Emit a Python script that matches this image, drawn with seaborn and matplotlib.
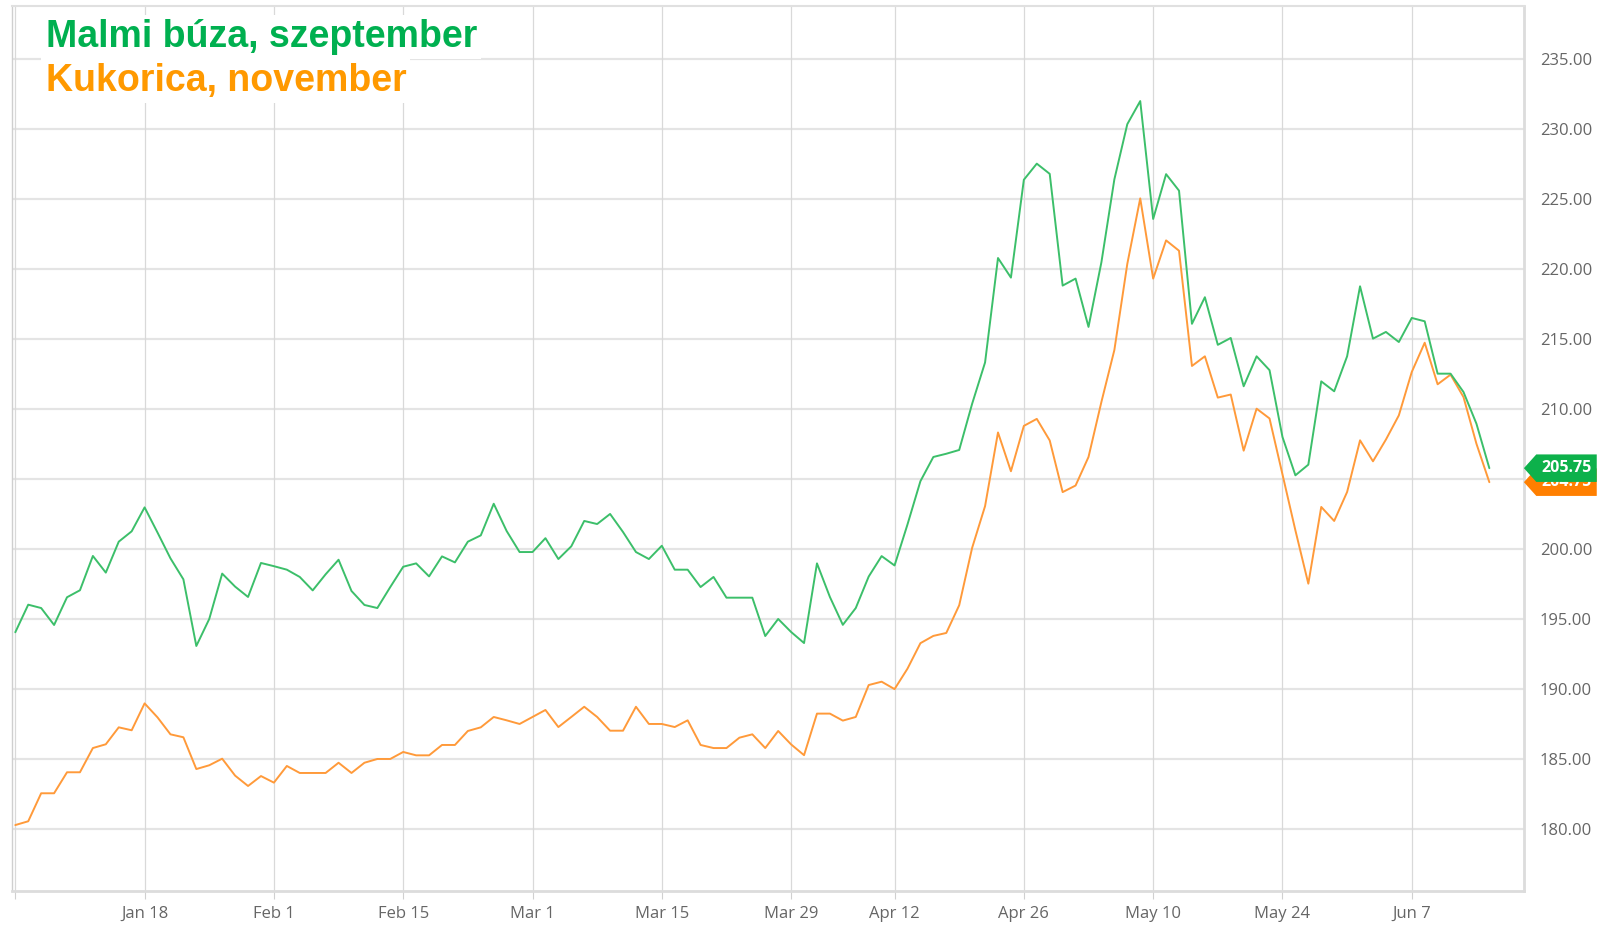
import numpy as np
import pandas as pd
import matplotlib
matplotlib.use("Agg")
import matplotlib.pyplot as plt
from matplotlib.path import Path
import seaborn as sns

# ---------------- data ----------------
dates = pd.bdate_range("2021-01-04", "2021-06-15", freq="C",
                       holidays=["2021-04-02", "2021-04-05"])

wheat_sep = [
    194.03, 196.00, 195.76, 194.55, 196.53, 197.03, 199.48, 198.29, 200.50, 201.24,
    202.95, 201.15, 199.31, 197.81, 193.05, 194.98, 198.22, 197.29, 196.55, 198.98,
    198.75, 198.50, 197.98, 197.02, 198.17, 199.21, 196.98, 195.98, 195.76, 197.26,
    198.71, 198.95, 198.02, 199.45, 199.02, 200.50, 200.95, 203.21, 201.26, 199.76,
    199.76, 200.75, 199.26, 200.17, 201.98, 201.76, 202.48, 201.19, 199.76, 199.26,
    200.21, 198.50, 198.50, 197.26, 197.98, 196.50, 196.50, 196.50, 193.76, 194.98,
    194.05, 193.26, 198.95, 196.55, 194.56, 195.76, 198.01, 199.47, 198.80, 201.73,
    204.82, 206.55, 206.78, 207.05, 210.35, 213.30, 220.76, 219.36, 226.35, 227.50,
    226.77, 218.79, 219.29, 215.84, 220.47, 226.38, 230.32, 231.97, 223.55, 226.75,
    225.57, 216.06, 217.96, 214.56, 215.05, 211.60, 213.74, 212.75, 207.98, 205.24,
    206.00, 211.95, 211.24, 213.74, 218.74, 215.00, 215.48, 214.76, 216.48, 216.24,
    212.50, 212.50, 211.19, 208.93, 205.75,
]

corn_nov = [
    180.26, 180.53, 182.53, 182.53, 184.03, 184.03, 185.76, 186.03, 187.24, 187.03,
    188.95, 187.95, 186.74, 186.53, 184.26, 184.53, 185.00, 183.79, 183.05, 183.76,
    183.29, 184.48, 183.98, 183.98, 183.98, 184.71, 183.98, 184.71, 184.98, 184.98,
    185.48, 185.24, 185.24, 185.98, 185.98, 186.98, 187.24, 187.98, 187.74, 187.48,
    187.98, 188.48, 187.26, 187.98, 188.71, 187.98, 187.00, 187.00, 188.71, 187.48,
    187.48, 187.26, 187.74, 185.98, 185.76, 185.76, 186.50, 186.74, 185.76, 186.98,
    186.02, 185.25, 188.22, 188.22, 187.72, 187.98, 190.26, 190.50, 189.97, 191.43,
    193.25, 193.77, 193.98, 195.96, 200.06, 203.04, 208.30, 205.53, 208.77, 209.27,
    207.73, 204.04, 204.51, 206.55, 210.49, 214.19, 220.34, 225.02, 219.29, 222.02,
    221.28, 213.05, 213.74, 210.79, 211.01, 207.00, 210.00, 209.30, 205.31, 201.31,
    197.50, 202.98, 201.98, 204.05, 207.74, 206.24, 207.79, 209.52, 212.62, 214.71,
    211.74, 212.43, 210.83, 207.50, 204.75,
]

tick_dates = ["2021-01-04", "2021-01-18", "2021-02-01", "2021-02-15", "2021-03-01",
              "2021-03-15", "2021-03-29", "2021-04-12", "2021-04-26", "2021-05-10",
              "2021-05-24", "2021-06-07"]
tick_labels = ["", "Jan 18", "Feb 1", "Feb 15", "Mar 1", "Mar 15", "Mar 29",
               "Apr 12", "Apr 26", "May 10", "May 24", "Jun 7"]
y_ticks = [180, 185, 190, 195, 200, 205, 210, 215, 220, 225, 230, 235]

title_wheat = "Malmi búza, szeptember"
title_corn = "Kukorica, november"

# ---------------- styling ----------------
GREEN_LINE = "#3cbf6a"
ORANGE_LINE = "#ff9a3a"
GREEN_TXT = "#00b050"
ORANGE_TXT = "#ff9900"
GREEN_TAG = "#0db14b"
ORANGE_TAG = "#ff7f00"

sns.set_theme(style="white")
plt.rcParams["font.family"] = ["Open Sans", "DejaVu Sans"]

W, H = 1604, 925
fig = plt.figure(figsize=(W / 100, H / 100), dpi=100)
L, R, T, B = 12, 1524, 6, 891
ax = fig.add_axes([L / W, 1 - B / H, (R - L) / W, (B - T) / H])

pos = np.arange(len(dates))
df = pd.DataFrame({"pos": pos, "wheat": wheat_sep, "corn": corn_nov})

sns.lineplot(data=df, x="pos", y="corn", ax=ax, color=ORANGE_LINE, lw=1.4, zorder=3)
sns.lineplot(data=df, x="pos", y="wheat", ax=ax, color=GREEN_LINE, lw=1.4, zorder=4)

ax.set_xlim(-0.255, 116.68)
ax.set_ylim(175.55, 238.76)

date_index = {d.strftime("%Y-%m-%d"): i for i, d in enumerate(dates)}
xt = [date_index[d] for d in tick_dates]
ax.set_xticks(xt)
ax.set_xticklabels(tick_labels)
ax.set_yticks(y_ticks)
ax.set_yticklabels([f"{v:.2f}" for v in y_ticks])
ax.yaxis.tick_right()
ax.set_xlabel("")
ax.set_ylabel("")

ax.tick_params(axis="y", length=0, pad=11.5, labelsize=12, labelcolor="#666666")
ax.tick_params(axis="x", length=5.5, width=0.8, color="#d0d0d0", pad=5,
               labelsize=12, labelcolor="#666666", bottom=True)

for v in y_ticks:
    ax.axhline(v, color="#e4e4e4", lw=1.6, zorder=1)
for x in xt:
    ax.axvline(x, color="#d9d9d9", lw=0.9, zorder=1)

for side in ["top", "bottom", "left", "right"]:
    ax.spines[side].set_visible(True)
ax.spines["bottom"].set_color("#dcdcdc")
ax.spines["bottom"].set_linewidth(2.0)
ax.spines["right"].set_color("#dcdcdc")
ax.spines["right"].set_linewidth(2.0)
ax.spines["left"].set_color("#cfcfcf")
ax.spines["left"].set_linewidth(1.0)
ax.spines["top"].set_color("#e0e0e0")
ax.spines["top"].set_linewidth(1.5)

# ---------------- titles ----------------
for txt, col, base in [(title_wheat, GREEN_TXT, 46.7), (title_corn, ORANGE_TXT, 90.7)]:
    fig.text(45.5 / W, 1 - base / H, txt, color=col, fontsize=27, fontweight="bold",
             family=["Liberation Sans", "DejaVu Sans"], va="baseline", ha="left",
             bbox=dict(fc="white", ec="none", pad=3), zorder=10)


# ---------------- last-value tags ----------------
def tag_box(x0, y0, width, height, mutation_size):
    """Pentagon-shaped price tag pointing left."""
    pad_x = 0.32 * mutation_size
    pad_y = 0.36 * mutation_size
    x0 -= pad_x
    x1 = x0 + width + 2 * pad_x
    y0 -= pad_y
    y1 = y0 + height + 2 * pad_y
    tip = 0.45 * (y1 - y0)
    ym = 0.5 * (y0 + y1)
    verts = [(x0, y0), (x1, y0), (x1, y1), (x0, y1), (x0 - tip, ym), (x0, y0)]
    return Path(verts, closed=True)


ytr = ax.get_yaxis_transform()
for val, col in [(corn_nov[-1], ORANGE_TAG), (wheat_sep[-1], GREEN_TAG)]:
    ax.text(1.0115, val, f"{val:.2f}", transform=ytr, ha="left", va="center",
            color="white", fontsize=11.5, fontweight="bold",
            family=["Open Sans", "DejaVu Sans"], clip_on=False, zorder=20,
            bbox=dict(boxstyle=tag_box, fc=col, ec="none"))

fig.savefig("out.png", dpi=100, facecolor="white")
